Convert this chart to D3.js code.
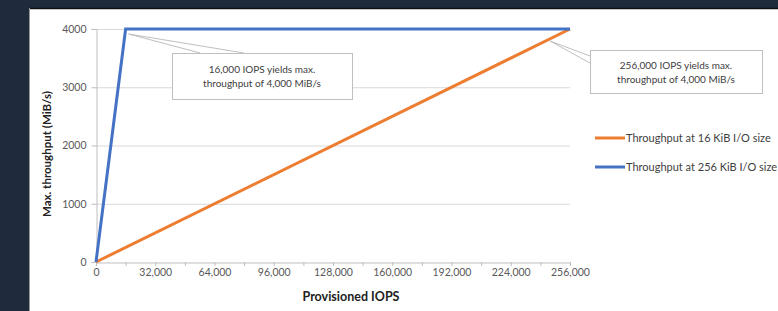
<!DOCTYPE html>
<html>
<head>
<meta charset="utf-8">
<script src="https://cdn.jsdelivr.net/npm/d3@7"></script>
<style>
  html, body { margin: 0; padding: 0; background: #1f2a3d; }
  svg { display: block; font-family: Lato, "Open Sans", sans-serif; }
</style>
</head>
<body>
<svg id="chart"></svg>
<script>
// chart values
var iops16 = [0, 256000];
var mib16 = [0, 4000];
var iops256 = [0, 16000, 256000];
var mib256 = [0, 4000, 4000];
var xTicks = [0, 32000, 64000, 96000, 128000, 160000, 192000, 224000, 256000];
var yTicks = [0, 1000, 2000, 3000, 4000];
var seriesNames = ["Throughput at 16 KiB I/O size", "Throughput at 256 KiB I/O size"];
var seriesColors = ["#ed7d31", "#4472c4"];
var notes = [
  {x: 16000, y: 4000, lines: ["16,000 IOPS yields max.", "throughput of 4,000 MiB/s"]},
  {x: 256000, y: 4000, lines: ["256,000 IOPS yields max.", "throughput of 4,000 MiB/s"]}
];

var W = 778, H = 311;
var margin = {top: 29, left: 96, right: 208, bottom: 49};

const svg = d3.select("#chart").attr("width", W).attr("height", H);

// white panel over the dark background
svg.append("rect").attr("x", 0).attr("y", 0).attr("width", W).attr("height", H).attr("fill", "#1f2a3d");
svg.append("rect").attr("x", 29).attr("y", 8).attr("width", W - 29).attr("height", H - 8)
  .attr("fill", "#fff");
svg.append("line").attr("x1", 29).attr("x2", W).attr("y1", 8.5).attr("y2", 8.5).attr("stroke", "#111").attr("stroke-width", 1.5);
svg.append("line").attr("x1", 29.5).attr("x2", 29.5).attr("y1", 8).attr("y2", H).attr("stroke", "#999");

var x = d3.scaleLinear().domain([0, 256000]).range([margin.left, W - margin.right]);
var y = d3.scaleLinear().domain([0, 4000]).range([H - margin.bottom, margin.top]);

// gridlines
svg.append("g").selectAll("line").data(yTicks.filter(d => d > 0)).enter().append("line")
  .attr("x1", x(0)).attr("x2", x(256000))
  .attr("y1", d => y(d) + 0.5).attr("y2", d => y(d) + 0.5)
  .attr("stroke", "#d9d9d9");

// y axis
var yAxis = svg.append("g").attr("transform", "translate(" + (x(0) + 0.5) + ",0)")
  .call(d3.axisLeft(y).tickValues(yTicks).tickSize(5).tickPadding(5).tickFormat(d3.format("d")));
yAxis.select(".domain").attr("stroke", "#bfbfbf");
yAxis.selectAll(".tick line").attr("stroke", "#bfbfbf");
yAxis.selectAll("text").attr("fill", "#595959").style("font-size", "10.5px").style("font-family", "Lato, sans-serif");

// x axis with minor ticks every 16,000
var minor = d3.range(0, 256001, 16000);
svg.append("g").selectAll("line").data(minor).enter().append("line")
  .attr("x1", d => x(d) + 0.5).attr("x2", d => x(d) + 0.5)
  .attr("y1", y(0)).attr("y2", y(0) + 4)
  .attr("stroke", "#bfbfbf");
var xAxis = svg.append("g").attr("transform", "translate(0," + (y(0) + 0.5) + ")")
  .call(d3.axisBottom(x).tickValues(xTicks).tickSize(0).tickPadding(6).tickFormat(d3.format(",")));
xAxis.select(".domain").attr("stroke", "#bfbfbf");
xAxis.selectAll("text").attr("fill", "#595959").style("font-size", "10.5px").style("font-family", "Lato, sans-serif");

// axis titles
svg.append("text").attr("x", 351).attr("y", 301)
  .attr("text-anchor", "middle").attr("font-size", 12.5).attr("font-weight", "bold").attr("fill", "#222")
  .text("Provisioned IOPS");
svg.append("text").attr("transform", "translate(51,154) rotate(-90)")
  .attr("text-anchor", "middle").attr("font-size", 11.5).attr("font-weight", "bold").attr("fill", "#222")
  .text("Max. throughput (MiB/s)");

// lines
var line = d3.line().x(d => x(d[0])).y(d => y(d[1]));
svg.append("path").datum(d3.zip(iops16, mib16)).attr("d", line)
  .attr("fill", "none").attr("stroke", seriesColors[0]).attr("stroke-width", 3);
svg.append("path").datum(d3.zip(iops256, mib256)).attr("d", line)
  .attr("fill", "none").attr("stroke", seriesColors[1]).attr("stroke-width", 3);

// callouts
var boxes = [
  {bx: 172, by: 53, bw: 180, bh: 46, tip: [x(notes[0].x) + 3, y(notes[0].y) + 5], w1: [200, 53], w2: [244, 53]},
  {bx: 590, by: 50, bw: 172, bh: 43, tip: [x(notes[1].x) - 20, y(notes[1].y) + 12], w1: [590, 56], w2: [590, 63]}
];
boxes.forEach(function (b, i) {
  var g = svg.append("g");
  g.append("path")
    .attr("d", "M" + b.w1 + "L" + b.tip + "L" + b.w2)
    .attr("fill", "none").attr("stroke", "#bfbfbf").attr("stroke-width", 1);
  g.append("rect").attr("x", b.bx + 0.5).attr("y", b.by + 0.5).attr("width", b.bw).attr("height", b.bh)
    .attr("fill", "#fff").attr("stroke", "#bfbfbf");
  g.selectAll("text").data(notes[i].lines).enter().append("text")
    .attr("x", b.bx + b.bw / 2).attr("y", (d, j) => b.by + b.bh / 2 - 3 + j * 14)
    .attr("text-anchor", "middle").attr("font-size", 10).attr("fill", "#404040")
    .text(d => d);
});

// legend
var leg = svg.append("g").selectAll("g").data(seriesNames).enter().append("g")
  .attr("transform", (d, i) => "translate(595," + (138 + i * 29) + ")");
leg.append("line").attr("x1", 0).attr("x2", 30).attr("stroke", (d, i) => seriesColors[i]).attr("stroke-width", 3);
leg.append("text").attr("x", 31).attr("y", 3.5).attr("font-size", 11).attr("fill", "#404040").text(d => d);
</script>
</body>
</html>
